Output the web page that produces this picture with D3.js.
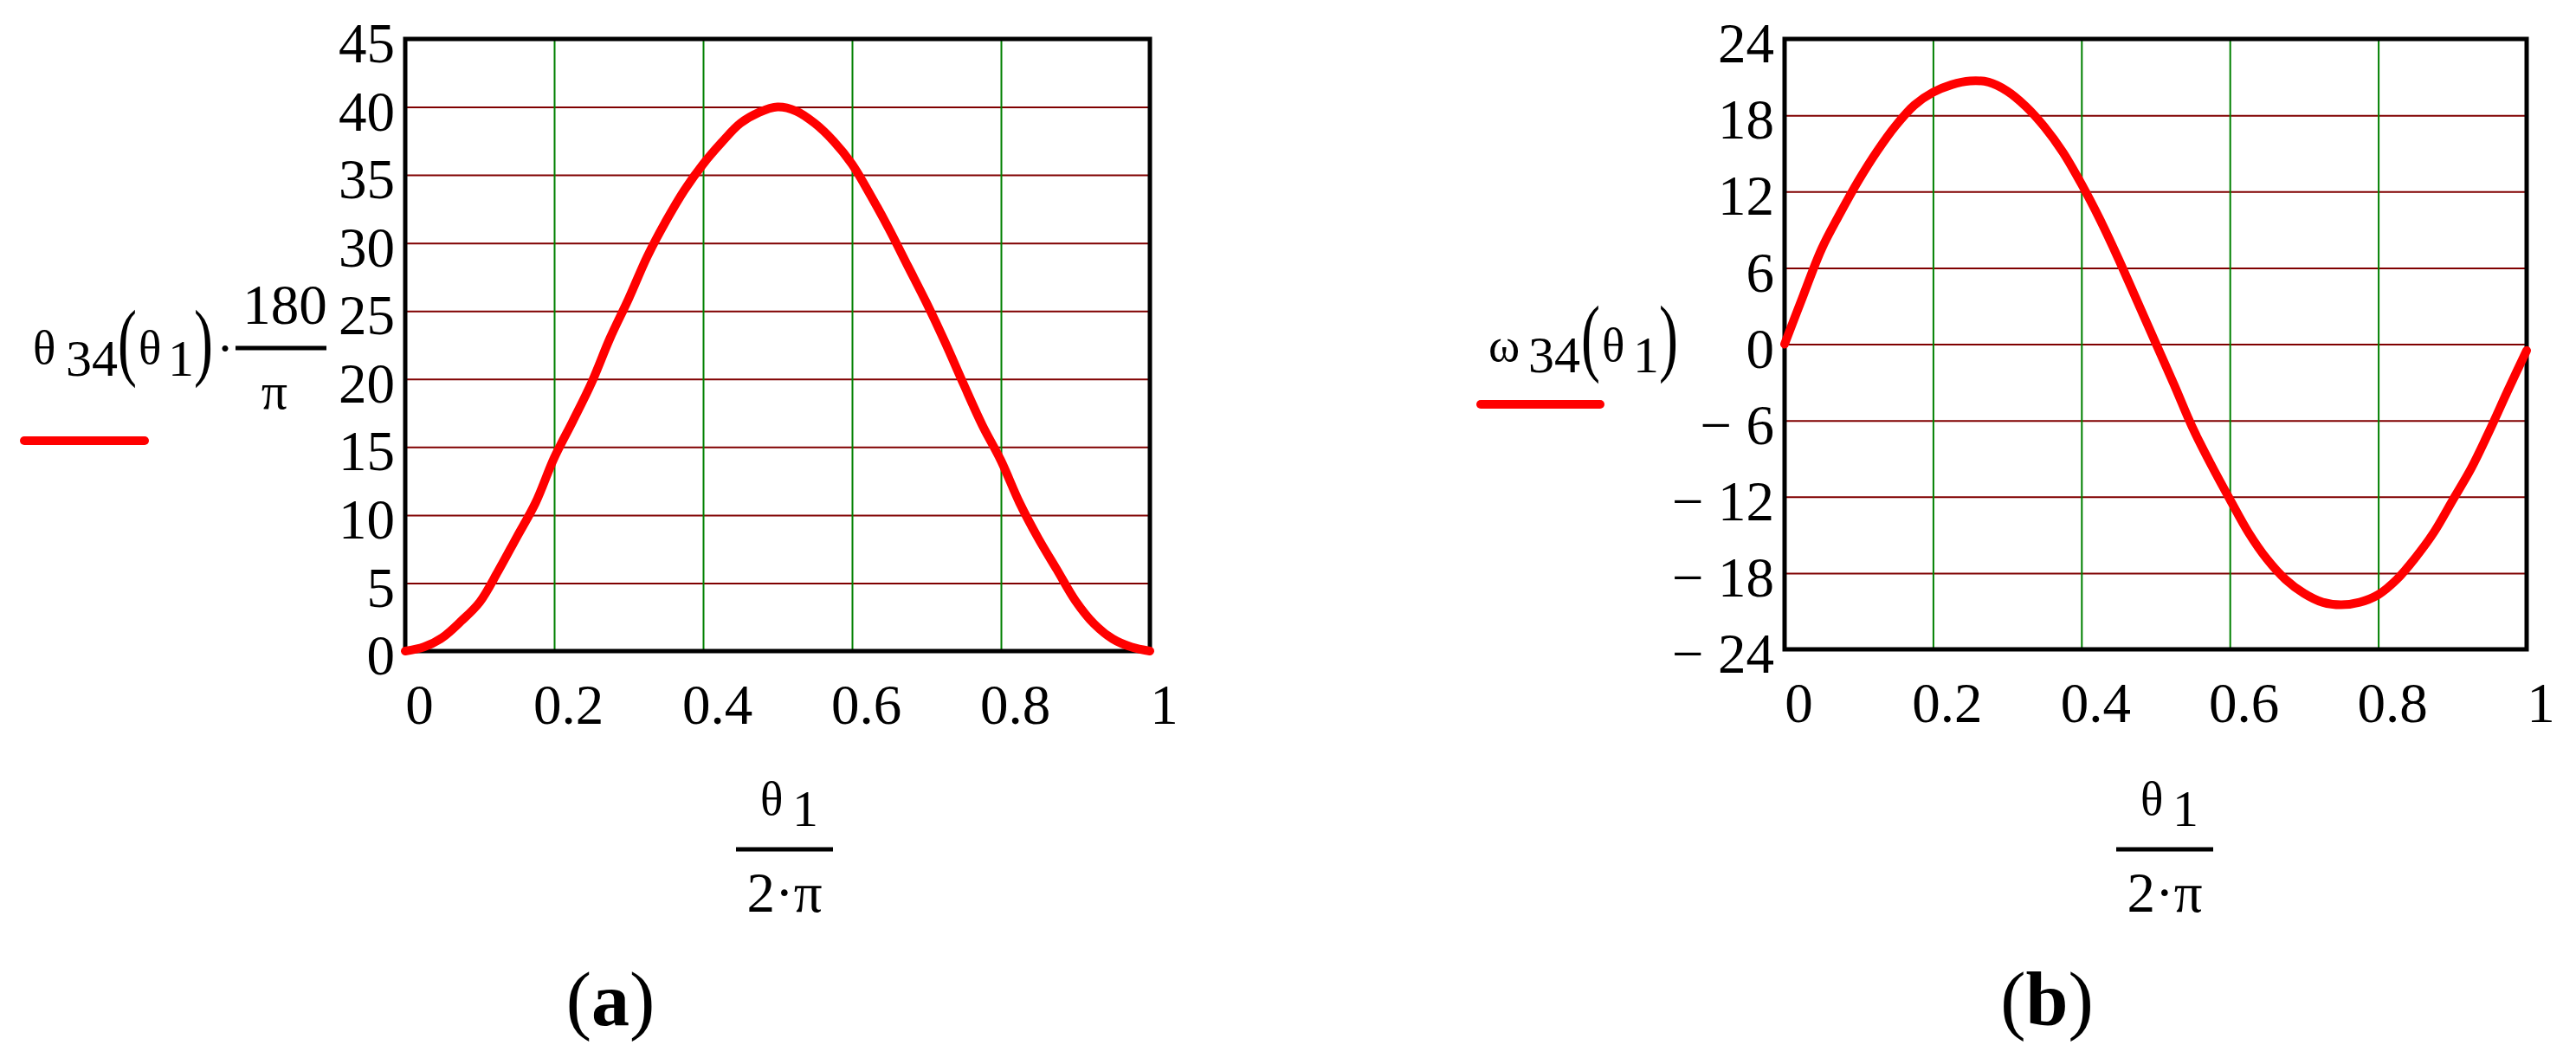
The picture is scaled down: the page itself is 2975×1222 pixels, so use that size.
<!DOCTYPE html>
<meta charset="utf-8">
<script src="https://d3js.org/d3.v7.min.js"></script>
<style>
  body { margin: 0; background: #fff; }
  text { font-family: "Liberation Serif", "Times New Roman", serif; fill: #000; }
</style>
<div id="chart"></div>
<script>

var width = 2975
var height = 1222

// x axis: theta1 / (2*pi), every 0.025
var xVals = [0, 0.025, 0.05, 0.075, 0.1, 0.125, 0.15, 0.175, 0.2, 0.225,
             0.25, 0.275, 0.3, 0.325, 0.35, 0.375, 0.4, 0.425, 0.45, 0.475,
             0.5, 0.525, 0.55, 0.575, 0.6, 0.625, 0.65, 0.675, 0.7, 0.725,
             0.75, 0.775, 0.8, 0.825, 0.85, 0.875, 0.9, 0.925, 0.95, 0.975, 1]

// (a) theta34 * 180/pi  (degrees)
var theta34 = [0, 0.3, 1.0, 2.2, 3.6, 5.9, 8.4, 10.9, 14.2, 16.9,
               19.7, 23.0, 25.9, 29.0, 31.6, 33.9, 35.8, 37.4, 38.8, 39.6,
               40.0, 39.7, 38.8, 37.5, 35.8, 33.5, 31.0, 28.3, 25.6, 22.7,
               19.6, 16.6, 14.0, 10.9, 8.3, 6.0, 3.7, 2.0, 0.9, 0.3, 0]

// (b) omega34
var omega34 = [0, 3.8, 7.5, 10.3, 12.9, 15.2, 17.2, 18.8, 19.8, 20.4,
               20.7, 20.6, 19.9, 18.7, 17.1, 15.1, 12.6, 9.8, 6.7, 3.4,
               0.1, -3.2, -6.6, -9.5, -12.2, -14.8, -16.9, -18.5, -19.6, -20.3,
               -20.5, -20.3, -19.7, -18.5, -16.8, -14.8, -12.3, -9.8, -6.8, -3.6, -0.5]

var xTicks = [0, 0.2, 0.4, 0.6, 0.8, 1]
var thetaTicks = [0, 5, 10, 15, 20, 25, 30, 35, 40, 45]
var omegaTicks = [-24, -18, -12, -6, 0, 6, 12, 18, 24]

var svg = d3.select("#chart")
  .append("svg")
    .attr("width", width)
    .attr("height", height)
    .style("background", "#fff")

function fmtX(d) { return d === 0 || d === 1 ? String(d) : d3.format(".1f")(d) }
function fmtY(d) { return d < 0 ? "\u2212 " + Math.abs(d) : String(d) }

function panel(xRange, yRange, yDomain, yTicks, values) {
  var x = d3.scaleLinear().domain([0, 1]).range(xRange)
  var y = d3.scaleLinear().domain(yDomain).range(yRange)
  var g = svg.append("g")

  // horizontal grid (dark red)
  g.append("g")
    .attr("transform", "translate(" + xRange[0] + ",0)")
    .call(d3.axisLeft(y)
      .tickValues(yTicks.slice(1, -1))
      .tickSize(-(xRange[1] - xRange[0]))
      .tickFormat(""))
    .call(function(a) {
      a.select(".domain").remove()
      a.selectAll("line").attr("stroke", "#800000").attr("stroke-width", 2)
    })

  // vertical grid (green)
  g.append("g")
    .attr("transform", "translate(0," + yRange[0] + ")")
    .call(d3.axisBottom(x)
      .tickValues(xTicks.slice(1, -1))
      .tickSize(-(yRange[0] - yRange[1]))
      .tickFormat(""))
    .call(function(a) {
      a.select(".domain").remove()
      a.selectAll("line").attr("stroke", "#008000").attr("stroke-width", 2)
    })

  // y tick labels
  g.append("g")
    .attr("transform", "translate(" + xRange[0] + ",0)")
    .call(d3.axisLeft(y).tickValues(yTicks).tickSize(0).tickPadding(12).tickFormat(fmtY))
    .call(function(a) {
      a.select(".domain").remove()
      a.selectAll("text")
        .attr("font-size", 65)
        .attr("font-family", null)
        .attr("dy", "0.41em")
    })

  // x tick labels
  g.append("g")
    .attr("transform", "translate(16," + yRange[0] + ")")
    .call(d3.axisBottom(x).tickValues(xTicks).tickSize(0).tickPadding(38).tickFormat(fmtX))
    .call(function(a) {
      a.select(".domain").remove()
      a.selectAll("text")
        .attr("font-size", 65)
        .attr("font-family", null)
        .attr("dy", "0.71em")
    })

  // frame
  g.append("rect")
    .attr("x", xRange[0])
    .attr("y", yRange[1])
    .attr("width", xRange[1] - xRange[0])
    .attr("height", yRange[0] - yRange[1])
    .attr("fill", "none")
    .attr("stroke", "#000")
    .attr("stroke-width", 5)

  // curve
  var line = d3.line()
    .x(function(d, i) { return x(xVals[i]) })
    .y(function(d) { return y(d) })
    .curve(d3.curveCatmullRom)

  g.append("path")
    .datum(values)
    .attr("d", line)
    .attr("fill", "none")
    .attr("stroke", "#ff0000")
    .attr("stroke-width", 10)
    .attr("stroke-linejoin", "round")
    .attr("stroke-linecap", "round")
}

panel([468, 1328], [752, 45], [0, 45], thetaTicks, theta34)
panel([2061, 2918], [750, 45], [-24, 24], omegaTicks, omega34)

function txt(x, y, s, size, anchor, weight) {
  return svg.append("text")
    .attr("x", x).attr("y", y)
    .attr("font-size", size)
    .attr("text-anchor", anchor || "start")
    .attr("font-weight", weight || "normal")
    .text(s)
}
// tall thin parentheses, like the Mathcad ones
function paren(x, y, s) {
  svg.append("text")
    .attr("transform", "translate(" + x + "," + y + ") scale(1,1.5)")
    .attr("font-size", 66)
    .text(s)
}
function bar(x1, x2, y, color, w, cap) {
  svg.append("line")
    .attr("x1", x1).attr("x2", x2).attr("y1", y).attr("y2", y)
    .attr("stroke", color).attr("stroke-width", w)
    .attr("stroke-linecap", cap || "butt")
}

// legend (a): θ34(θ1)·180/π
txt(38, 420, "θ", 55)
txt(76, 434, "34", 60)
paren(136, 427, "(")
txt(160, 420, "θ", 55)
txt(194, 434, "1", 60)
paren(224, 427, ")")
txt(250, 422, "·", 60)
txt(329, 374, "180", 65, "middle")
bar(272, 377, 402, "#000", 5)
txt(317, 472, "π", 60, "middle")
bar(28, 167, 509, "#ff0000", 10, "round")

// legend (b): ω34(θ1)
txt(1719, 417, "ω", 55)
txt(1765, 430, "34", 60)
paren(1826, 422, "(")
txt(1850, 417, "θ", 55)
txt(1886, 430, "1", 60)
paren(1916, 422, ")")
bar(1710, 1848, 467, "#ff0000", 10, "round")

// x axis titles θ1 / (2·π)
var titleCenters = [906, 2500]
titleCenters.forEach(function(cx) {
  txt(cx - 28, 941, "θ", 55)
  txt(cx + 9, 954, "1", 60)
  bar(cx - 56, cx + 56, 981, "#000", 5)
  txt(cx, 1053, "2·π", 65, "middle")
})

// panel captions
var captions = [["a", 705], ["b", 2364]]
captions.forEach(function(c) {
  var t = svg.append("text")
    .attr("x", c[1]).attr("y", 1184)
    .attr("font-size", 88)
    .attr("text-anchor", "middle")
  t.append("tspan").text("(")
  t.append("tspan").attr("font-weight", "bold").text(c[0])
  t.append("tspan").text(")")
})

</script>
